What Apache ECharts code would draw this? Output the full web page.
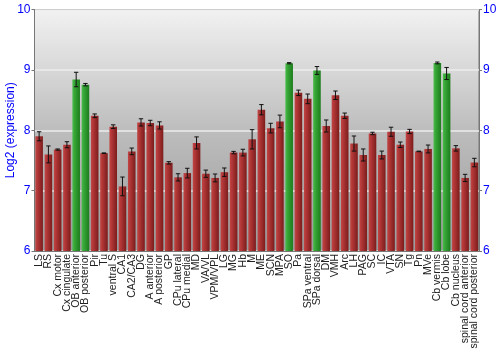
<!DOCTYPE html>
<html><head><meta charset="utf-8">
<script src="https://cdn.jsdelivr.net/npm/echarts@6/dist/echarts.min.js"></script>
<style>html,body{margin:0;padding:0;background:#fff}#c{width:500px;height:350px}</style>
</head><body><div id="c"></div>
<script>
var categories = ["LS","RS","Cx motor","Cx cingulate","OB anterior","OB posterior","Pir","Tu","ventral S","CA1","CA2/CA3","DG","A anterior","A posterior","GP","CPu lateral","CPu medial","MD","VA/VL","VPM/VPL","LG","MG","Hb","M","ME","SCN","MPA","SO","Pa","SPa ventral","SPa dorsal","DM","VMH","Arc","LH","PAG","SC","IC","VTA","SN","Tg","Pn","MVe","Cb vermis","Cb lobe","Cb nucleus","spinal cord anterior","spinal cord posterior"];
var values = [7.90,7.60,7.68,7.76,8.84,8.755,8.24,7.62,8.06,7.07,7.65,8.13,8.12,8.08,7.46,7.22,7.29,7.79,7.28,7.21,7.305,7.63,7.63,7.85,8.34,8.035,8.146,9.11,8.62,8.52,8.99,8.07,8.58,8.24,7.78,7.59,7.947,7.59,7.975,7.76,7.98,7.65,7.69,9.115,8.94,7.70,7.21,7.465];
var errors = [0.075,0.14,0.01,0.05,0.12,0.02,0.03,0.005,0.03,0.155,0.055,0.06,0.045,0.06,0.02,0.06,0.08,0.1,0.06,0.065,0.07,0.02,0.055,0.16,0.085,0.08,0.105,0.01,0.045,0.08,0.065,0.1,0.07,0.045,0.125,0.1,0.02,0.065,0.075,0.045,0.035,0.005,0.065,0.015,0.1,0.045,0.06,0.07];
var highlighted = ["OB anterior","OB posterior","SO","SPa dorsal","Cb vermis","Cb lobe"];
var yTicks = [6,7,8,9,10];

var chart = echarts.init(document.getElementById('c'), null, {renderer:'canvas'});
function grad(a,b,c){return new echarts.graphic.LinearGradient(0,0,1,0,[{offset:0,color:a},{offset:0.25,color:b},{offset:1,color:c}]);}
var redFill = grad('#c04646','#b43838','#7c1c1c');
var greenFill = grad('#4cbc4c','#38a838','#1c7c1c');
var barData = values.map(function(v,i){
  return {value:v, itemStyle:{color: highlighted.indexOf(categories[i])>=0 ? greenFill : redFill}};
});
var errData = values.map(function(v,i){return [i, v-errors[i], v+errors[i]];});
var yAxisCommon = {
  type:'value', min:yTicks[0], max:yTicks[yTicks.length-1], interval:1,
  axisLine:{show:true, lineStyle:{color:'#777'}},
  axisTick:{show:true, length:3, lineStyle:{color:'#777'}},
  axisLabel:{color:'#0000ff', fontSize:12, fontFamily:'Liberation Sans, Arial', margin:4},
};
chart.setOption({
  animation:false,
  grid:{left:34.5, right:21, top:9.5, bottom:99, containLabel:false, outerBoundsMode:'none',
    show:true, borderColor:'#777', borderWidth:1,
    backgroundColor:new echarts.graphic.LinearGradient(0,0,0,1,[{offset:0,color:'#f2f2f2'},{offset:0.5,color:'#bdbdbd'},{offset:1,color:'#9a9a9a'}])},
  xAxis:{type:'category', data:categories,
    axisLine:{show:true, lineStyle:{color:'#777'}}, axisTick:{show:false},
    axisLabel:{interval:0, rotate:90, fontSize:10.5, color:'#222', fontFamily:'Liberation Sans, Arial', margin:3}},
  yAxis:[
    Object.assign({}, yAxisCommon, {position:'left', name:'Log2 (expression)', nameLocation:'middle', nameGap:18,
      nameMoveOverlap:false,
      nameTextStyle:{color:'#0000ff', fontSize:12, fontFamily:'Liberation Sans, Arial'},
      splitLine:{show:true, lineStyle:{color:'#ececec', width:1.5}}}),
    Object.assign({}, yAxisCommon, {position:'right', splitLine:{show:false}})
  ],
  series:[
    {type:'bar', data:barData, barCategoryGap:'18%', yAxisIndex:0},
    {type:'custom', data:errData, yAxisIndex:0, z:10,
     renderItem:function(params, api){
       var x = api.value(0);
       var lo = api.coord([x, api.value(1)]);
       var hi = api.coord([x, api.value(2)]);
       var w = 2.2;
       var st = {stroke:'#111', lineWidth:1};
       return {type:'group', children:[
         {type:'line', shape:{x1:lo[0],y1:lo[1],x2:hi[0],y2:hi[1]}, style:st},
         {type:'line', shape:{x1:lo[0]-w,y1:lo[1],x2:lo[0]+w,y2:lo[1]}, style:st},
         {type:'line', shape:{x1:hi[0]-w,y1:hi[1],x2:hi[0]+w,y2:hi[1]}, style:st}
       ]};
     }}
  ]
});
</script></body></html>
